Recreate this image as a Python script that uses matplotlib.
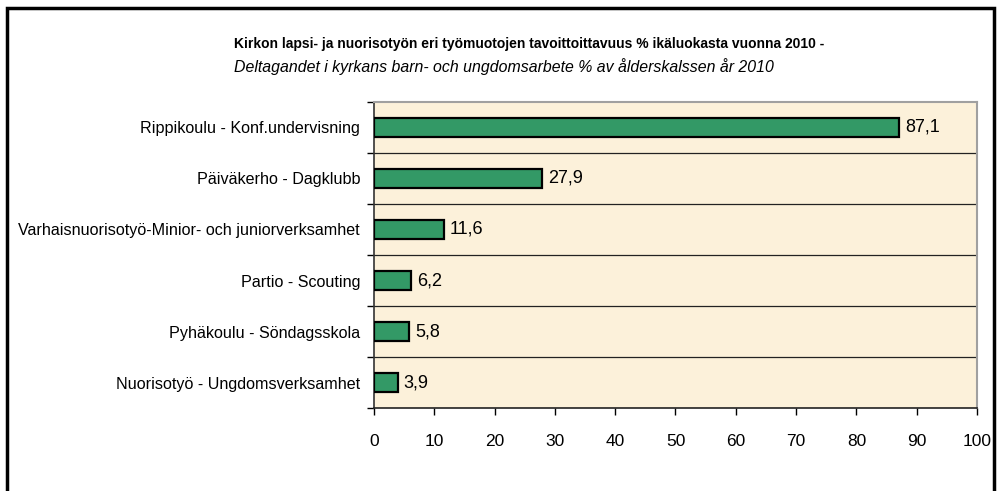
import matplotlib.pyplot as plt
from matplotlib.patches import Rectangle

# Chart data (top to bottom)
categories = ["Rippikoulu - Konf.undervisning",
              "Päiväkerho - Dagklubb",
              "Varhaisnuorisotyö-Minior- och juniorverksamhet",
              "Partio - Scouting",
              "Pyhäkoulu - Söndagsskola",
              "Nuorisotyö - Ungdomsverksamhet"]
values = [87.1, 27.9, 11.6, 6.2, 5.8, 3.9]
x_ticks = [0, 10, 20, 30, 40, 50, 60, 70, 80, 90, 100]

title_fi = "Kirkon lapsi- ja nuorisotyön eri työmuotojen tavoittoittavuus % ikäluokasta vuonna 2010 -"
title_sv = "Deltagandet i kyrkans barn- och ungdomsarbete % av ålderskalssen år 2010"

plt.rcParams['font.family'] = ['Liberation Sans', 'DejaVu Sans']

fig = plt.figure(figsize=(10.04, 4.91), dpi=100)
ax = fig.add_axes([0.3725, 0.169, 0.6006, 0.6233])

# Outer frame of the chart
fig.patches.append(Rectangle((0.0065, -0.05), 0.9835, 1.034, transform=fig.transFigure,
                             fill=False, edgecolor='black', linewidth=2.5, zorder=10))

ax.set_facecolor('#FCF1DA')
n = len(categories)
pos = list(range(n))
ax.barh(pos, values, height=0.39, color='#339966', edgecolor='black', linewidth=1.6, zorder=3)

for p, v in zip(pos, values):
    ax.text(v + 1.0, p, f"{v:.1f}".replace('.', ','), va='center', ha='left',
            fontsize=13, zorder=4)

ax.set_xlim(0, 100)
ax.set_ylim(n - 0.5, -0.5)
ax.set_xticks(x_ticks)
ax.set_xticklabels([str(t) for t in x_ticks], fontsize=12.5)

# category separators
bounds = [i - 0.5 for i in range(n + 1)]
for b in bounds[1:-1]:
    ax.axhline(b, color='#222222', linewidth=0.9, zorder=2)
ax.set_yticks(bounds)
ax.set_yticklabels([])
ax.set_yticks(pos, minor=True)
ax.set_yticklabels(categories, minor=True, fontsize=11.6)
ax.tick_params(axis='y', which='minor', length=0, pad=10)
ax.tick_params(axis='y', which='major', length=5, width=1, direction='out')
ax.tick_params(axis='x', length=5, width=1, direction='out', pad=14)

ax.spines['top'].set_color('#A0A0A0')
ax.spines['right'].set_color('#A0A0A0')
ax.spines['top'].set_linewidth(1.5)
ax.spines['right'].set_linewidth(1.5)
ax.spines['left'].set_color('#333333')
ax.spines['bottom'].set_color('#222222')
ax.spines['left'].set_linewidth(1.2)
ax.spines['bottom'].set_linewidth(1.2)

fig.text(0.233, 0.9104, title_fi, fontsize=10, fontweight='bold', ha='left', va='center')
fig.text(0.233, 0.8635, title_sv, fontsize=11.4, fontstyle='italic', ha='left', va='center')

plt.savefig("out.png", dpi=100, facecolor='white')
